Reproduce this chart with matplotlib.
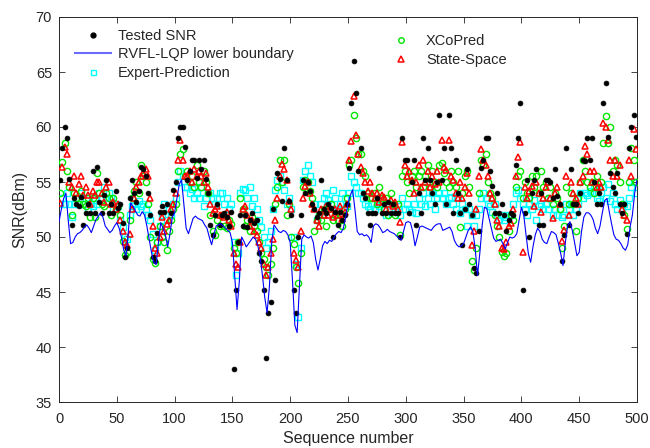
import numpy as np
import matplotlib
matplotlib.use("Agg")
import matplotlib.pyplot as plt
from matplotlib.lines import Line2D

plt.rcParams["font.family"] = ["Liberation Sans", "DejaVu Sans"]

# sequence positions of the measured / predicted samples
seq = np.arange(1, 500, 2)

tested_snr = [
    55.2, 58.1, 60.0, 59.0, 55.3,  51.1, 53.5, 53.0, 52.8, 53.6,
    51.1, 52.2, 53.0, 52.2, 56.0,  52.2, 56.4, 53.2, 52.2, 53.8,
    55.2, 52.2, 53.0, 52.2, 54.2,  52.6, 53.0, 51.3, 48.2, 49.0,
    53.5, 55.2, 54.0, 53.2, 54.2,  56.4, 56.2, 55.5, 54.0, 52.0,
    48.2, 47.8, 50.4, 52.3, 52.8,  52.3, 53.0, 46.1, 52.2, 54.3,
    55.0, 59.0, 60.0, 60.0, 58.2,  55.2, 56.0, 57.0, 57.0, 55.4,
    57.0, 56.2, 57.0, 55.3, 54.0,  51.1, 50.2, 52.0, 53.0, 51.1,
    52.0, 52.2, 51.8, 51.0, 52.3,  38.0, 45.2, 49.5, 52.0, 51.0,
    52.0, 50.9, 51.5, 52.2, 51.3,  51.5, 48.5, 47.8, 45.2, 39.0,
    43.1, 44.1, 52.5, 46.1, 55.8,  55.3, 53.3, 58.1, 55.2, 53.3,
    52.0, 45.2, 43.1, 50.0, 52.0,  55.2, 54.0, 55.0, 54.2, 53.0,
    52.5, 51.8, 52.2, 55.2, 52.5,  52.2, 53.0, 52.6, 50.0, 52.3,
    51.1, 52.3, 51.5, 52.0, 53.0,  56.3, 62.2, 66.0, 63.1, 56.0,
    58.1, 54.0, 53.5, 52.2, 51.1,  52.2, 52.2, 53.5, 56.3, 52.2,
    53.0, 52.2, 53.2, 52.2, 53.0,  52.2, 52.2, 50.0, 59.0, 57.0,
    57.0, 52.2, 55.0, 57.0, 51.1,  54.0, 52.2, 59.0, 55.2, 58.1,
    55.2, 54.0, 53.0, 55.0, 61.1,  55.2, 58.1, 53.0, 61.1, 58.1,
    52.2, 57.0, 54.0, 52.2, 49.3,  52.5, 56.2, 53.0, 52.0, 47.2,
    46.7, 50.5, 56.3, 57.0, 59.0,  59.0, 56.0, 54.6, 52.2, 54.0,
    52.2, 53.0, 52.0, 50.5, 51.5,  52.2, 52.0, 56.5, 59.0, 62.2,
    45.2, 52.2, 55.2, 50.0, 54.0,  55.2, 56.2, 51.1, 54.0, 51.1,
    55.2, 55.2, 55.0, 53.5, 56.2,  53.7, 53.0, 47.8, 50.2, 58.1,
    51.1, 56.2, 53.0, 53.0, 52.2,  54.0, 57.0, 56.9, 59.0, 57.0,
    59.0, 55.0, 53.0, 54.0, 53.0,  62.2, 64.0, 59.1, 55.8, 54.5,
    54.0, 55.8, 53.0, 52.2, 53.0,  50.3, 58.1, 60.0, 61.1, 59.1,
]

state_space = [
    53.1, 56.4, 58.2, 57.5, 55.0,  54.5, 55.5, 54.0, 54.8, 55.5,
    53.8, 54.5, 53.8, 53.0, 54.2,  53.8, 55.0, 55.0, 54.0, 53.2,
    54.5, 55.0, 53.0, 53.2, 52.5,  53.0, 51.5, 50.5, 49.5, 49.3,
    50.3, 52.5, 53.5, 54.5, 55.0,  55.5, 55.8, 56.2, 55.5, 53.5,
    51.0, 49.0, 48.5, 50.0, 51.8,  50.5, 51.2, 51.5, 52.5, 53.0,
    54.0, 57.0, 58.8, 57.0, 55.5,  55.5, 56.0, 55.0, 56.2, 55.5,
    56.0, 55.5, 55.0, 55.8, 54.5,  53.0, 52.2, 52.5, 52.8, 52.0,
    52.0, 51.8, 52.3, 51.5, 51.0,  48.5, 47.5, 47.3, 49.5, 52.5,
    52.8, 52.0, 51.0, 51.5, 50.5,  50.2, 49.5, 49.0, 47.5, 46.5,
    47.3, 48.5, 49.8, 51.5, 53.5,  55.5, 56.6, 56.2, 55.2, 53.3,
    52.5, 48.5, 47.9, 47.3, 50.5,  53.5, 54.6, 55.0, 54.0, 53.0,
    52.5, 51.5, 51.0, 52.5, 52.0,  52.8, 52.0, 52.5, 51.8, 52.5,
    52.0, 52.8, 51.6, 52.3, 53.0,  57.0, 58.7, 62.8, 59.3, 57.5,
    56.4, 55.8, 55.0, 54.2, 55.0,  54.0, 53.5, 54.0, 53.2, 53.8,
    53.6, 52.5, 53.0, 53.4, 52.8,  53.2, 52.5, 51.4, 58.6, 56.5,
    55.5, 56.0, 55.2, 54.0, 55.0,  56.5, 54.5, 57.0, 55.0, 56.0,
    54.5, 55.5, 54.8, 56.0, 55.0,  58.8, 56.4, 56.1, 58.8, 55.5,
    55.2, 54.0, 53.5, 55.0, 53.5,  54.5, 55.8, 54.0, 49.3, 50.5,
    52.5, 55.5, 58.0, 57.0, 56.5,  55.5, 54.0, 53.5, 53.0, 51.5,
    51.0, 49.0, 48.9, 49.5, 51.0,  51.3, 52.5, 55.5, 57.3, 58.6,
    48.6, 54.5, 53.5, 54.2, 54.6,  52.8, 55.0, 54.0, 52.3, 53.5,
    54.5, 55.0, 53.5, 51.7, 54.0,  54.5, 53.0, 49.6, 50.6, 55.5,
    52.0, 55.0, 54.0, 53.5, 53.0,  55.0, 55.5, 58.3, 57.5, 56.0,
    55.0, 56.0, 54.5, 55.0, 54.5,  60.4, 60.0, 58.8, 57.0, 55.5,
    57.0, 55.5, 56.5, 52.5, 52.0,  51.5, 57.0, 55.5, 59.8, 58.0,
]

xcopred = [
    54.0, 56.8, 58.5, 56.0, 54.5,  52.0, 54.0, 53.5, 53.0, 54.2,
    53.0, 52.8, 53.5, 51.8, 53.5,  51.8, 55.8, 54.0, 53.0, 52.8,
    54.0, 53.5, 52.0, 53.5, 52.5,  52.8, 52.0, 49.6, 48.4, 48.6,
    51.5, 53.5, 54.2, 55.0, 54.0,  56.5, 55.5, 55.0, 53.0, 50.0,
    48.0, 47.6, 49.5, 51.0, 50.0,  49.5, 48.8, 50.5, 51.5, 52.5,
    53.0, 56.0, 57.5, 58.0, 55.5,  56.0, 55.0, 55.5, 54.5, 56.5,
    55.0, 54.5, 56.0, 55.0, 54.0,  52.0, 50.5, 50.2, 51.5, 51.0,
    52.0, 51.0, 50.8, 51.5, 51.2,  49.0, 48.5, 49.5, 53.5, 52.5,
    51.0, 51.5, 50.5, 51.8, 51.0,  50.5, 49.5, 48.5, 48.0, 47.3,
    46.5, 47.5, 49.0, 53.0, 54.5,  57.0, 55.0, 57.0, 52.0, 53.0,
    50.0, 49.4, 47.3, 45.8, 48.5,  54.5, 55.2, 55.0, 54.2, 53.5,
    50.5, 51.5, 52.0, 51.5, 52.5,  51.0, 52.5, 53.0, 51.5, 52.0,
    51.5, 52.0, 51.0, 52.5, 53.5,  56.5, 57.0, 61.1, 59.0, 57.5,
    57.5, 56.0, 55.5, 54.0, 53.5,  53.5, 54.0, 53.0, 54.5, 53.5,
    52.5, 53.5, 52.0, 54.0, 53.0,  52.0, 53.0, 50.2, 55.5, 56.0,
    55.0, 54.0, 55.5, 56.0, 54.5,  55.5, 56.0, 54.5, 55.5, 56.5,
    54.5, 56.0, 55.0, 54.5, 56.5,  56.7, 55.8, 55.0, 54.5, 56.0,
    55.0, 54.5, 56.0, 50.9, 54.0,  55.5, 56.0, 54.5, 47.8, 47.0,
    49.0, 54.0, 57.0, 56.5, 57.5,  55.0, 54.0, 53.5, 52.0, 51.0,
    50.0, 48.6, 48.3, 48.5, 50.5,  52.0, 51.5, 54.5, 55.5, 56.0,
    53.5, 55.0, 54.0, 53.5, 55.5,  54.5, 55.5, 54.0, 56.0, 54.5,
    55.0, 53.5, 54.5, 53.0, 54.0,  53.5, 52.5, 49.0, 51.0, 54.5,
    53.0, 54.0, 53.0, 50.5, 53.5,  55.0, 57.0, 56.0, 55.0, 54.5,
    55.0, 54.0, 55.5, 54.5, 55.0,  58.5, 61.0, 58.5, 60.0, 56.0,
    57.0, 56.5, 55.0, 53.0, 52.0,  50.7, 55.0, 58.1, 57.0, 55.0,
]

expert_prediction = [
    53.0, 53.5, 53.0, 54.0, 53.0,  51.8, 53.0, 53.5, 53.0, 54.0,
    53.0, 53.5, 52.5, 53.0, 52.8,  53.5, 53.0, 54.0, 53.5, 54.5,
    53.5, 54.0, 53.5, 52.5, 53.0,  52.8, 51.5, 50.9, 50.0, 49.8,
    52.0, 52.8, 53.0, 52.5, 53.3,  52.8, 53.0, 52.5, 52.0, 51.5,
    50.3, 48.8, 49.5, 51.0, 52.0,  53.0, 51.5, 52.5, 52.0, 53.0,
    53.5, 55.0, 56.0, 55.5, 54.5,  54.5, 54.0, 54.4, 53.5, 54.0,
    53.5, 54.5, 52.8, 53.5, 54.0,  54.0, 53.5, 53.0, 53.5, 54.0,
    54.0, 53.0, 53.5, 52.5, 53.0,  49.5, 46.5, 48.5, 54.0, 54.4,
    54.3, 53.5, 54.5, 52.8, 53.5,  52.5, 51.5, 50.9, 50.0, 49.0,
    49.5, 50.5, 52.5, 54.3, 55.2,  55.5, 55.0, 54.3, 53.0, 53.5,
    52.5, 50.0, 47.5, 42.7, 49.0,  55.2, 56.0, 56.5, 55.5, 55.0,
    53.0, 51.5, 52.0, 53.0, 53.5,  54.0, 53.4, 53.0, 54.3, 53.5,
    52.5, 53.0, 54.0, 53.5, 52.8,  54.0, 55.5, 55.0, 54.5, 54.0,
    54.0, 53.5, 53.0, 52.8, 52.5,  53.0, 52.5, 53.0, 52.8, 53.0,
    52.5, 52.0, 53.0, 52.5, 53.0,  52.5, 52.8, 52.0, 53.5, 52.5,
    53.0, 52.5, 52.3, 53.0, 52.2,  53.5, 53.0, 54.0, 52.8, 53.5,
    53.0, 54.0, 52.5, 53.5, 54.0,  53.5, 54.0, 53.0, 53.5, 53.6,
    53.0, 52.5, 53.6, 52.2, 53.0,  52.5, 51.0, 52.5, 52.0, 51.0,
    52.0, 52.5, 53.5, 54.0, 53.5,  53.0, 52.8, 52.3, 53.0, 52.0,
    51.5, 52.0, 51.5, 51.8, 52.0,  52.0, 53.0, 54.0, 54.3, 53.5,
    53.0, 52.5, 52.0, 53.0, 52.5,  53.4, 51.5, 52.8, 53.0, 52.5,
    53.0, 52.5, 53.5, 52.0, 52.5,  52.0, 52.5, 51.8, 52.0, 53.0,
    52.5, 53.0, 52.0, 52.5, 53.0,  54.0, 53.5, 54.0, 53.8, 54.2,
    54.0, 54.5, 53.5, 53.3, 54.0,  54.5, 53.5, 54.8, 53.3, 54.0,
    53.0, 52.5, 53.4, 52.5, 53.0,  52.8, 53.5, 54.5, 55.0, 54.0,
]

# RVFL-LQP lower boundary, one value every 2 samples from 0 to 500
boundary_seq = np.arange(0, 501, 2)
lower_boundary = [
    51.4, 52.5, 53.5, 54.0, 51.5, 49.4, 49.5, 50.0, 50.3, 50.4,
    50.6, 50.9, 51.1, 50.8, 50.4, 51.0, 51.6, 51.9, 52.2, 51.8,
    51.0, 50.7, 50.4, 50.6, 51.0, 51.3, 50.8, 50.0, 48.8, 48.3,
    50.5, 53.1, 52.8, 52.4, 52.0, 51.9, 52.3, 52.0, 51.0, 49.8,
    48.6, 47.7, 47.5, 49.5, 51.3, 50.8, 50.2, 49.1, 50.3, 51.8,
    52.2, 53.5, 54.8, 55.2, 53.0, 50.8, 50.3, 51.0, 51.7, 51.9,
    51.7, 51.6, 51.5, 51.1, 50.8, 50.0, 49.3, 50.2, 51.0, 51.1,
    51.2, 51.0, 50.8, 50.6, 50.4, 49.5, 46.5, 43.4, 46.0, 50.0,
    49.6, 49.1, 49.4, 49.7, 50.0, 49.8, 49.2, 48.2, 46.5, 44.5,
    43.1, 45.5, 49.5, 51.1, 50.8, 50.5, 50.4, 50.6, 50.5, 50.2,
    49.5, 46.0, 42.0, 41.3, 45.5, 49.8, 50.2, 50.0, 49.9, 50.1,
    49.5, 48.0, 47.0, 48.0, 49.2, 49.6, 49.4, 49.7, 49.6, 50.0,
    50.3, 50.5, 50.4, 50.8, 51.8, 53.0, 53.8, 54.3, 52.5, 50.5,
    50.2, 50.3, 50.1, 50.2, 50.0, 49.5, 51.0, 51.2, 51.1, 50.8,
    50.4, 50.5, 50.7, 50.5, 50.4, 50.3, 50.1, 49.9, 49.7, 50.5,
    51.3, 51.4, 51.3, 50.5, 49.2, 50.0, 50.9, 51.0, 50.9, 50.8,
    50.7, 50.6, 50.9, 51.1, 51.2, 51.2, 50.6, 50.7, 50.8, 50.9,
    50.5, 49.7, 49.3, 49.1, 49.2, 49.4, 50.0, 50.6, 50.9, 50.5,
    49.0, 46.5, 48.5, 51.0, 52.7, 52.6, 51.7, 50.8, 49.9, 49.6,
    49.7, 49.8, 49.4, 48.9, 49.5, 50.0, 49.9, 50.0, 50.3, 51.5,
    52.7, 52.0, 50.2, 48.5, 47.7, 49.1, 50.2, 50.8, 50.5, 49.8,
    49.5, 49.4, 50.0, 50.5, 50.4, 50.2, 49.4, 48.5, 47.4, 49.5,
    51.0, 51.4, 50.6, 49.5, 48.3, 48.6, 50.5, 51.8, 52.2, 52.2,
    52.0, 51.6, 50.8, 50.3, 51.0, 52.2, 53.3, 53.5, 52.3, 51.2,
    50.2, 49.8, 49.7, 49.4, 49.0, 48.8, 49.3, 50.9, 52.0, 54.0,
    55.2,
]

x_ticks = list(range(0, 501, 50))
y_ticks = list(range(35, 71, 5))

TXT = "#262626"
CYAN = "#00ffff"
GREEN = "#00e600"
RED = "#ff0000"
BLUE = "#0000ff"

fig = plt.figure(figsize=(6.5, 4.48), dpi=100)
ax = fig.add_axes([59 / 650, 46 / 448, 578 / 650, 385 / 448])

ax.plot(seq, expert_prediction, linestyle="none", marker="s", ms=4.0,
        mfc="none", mec=CYAN, mew=1.0, zorder=2)
ax.plot(seq, xcopred, linestyle="none", marker="o", ms=4.5,
        mfc="none", mec=GREEN, mew=1.0, zorder=3)
ax.plot(seq, state_space, linestyle="none", marker="^", ms=5.0,
        mfc="none", mec=RED, mew=1.1, zorder=4)
ax.plot(seq, tested_snr, linestyle="none", marker="o", ms=3.5,
        mfc="black", mec="black", mew=0.5, zorder=5)
ax.plot(boundary_seq, lower_boundary, color=BLUE, lw=0.8, zorder=6)

ax.set_xlim(0, 500)
ax.set_ylim(35, 70)
ax.set_xticks(x_ticks)
ax.set_yticks(y_ticks)
ax.tick_params(direction="in", top=True, right=True, length=4, width=0.6,
               labelsize=10.5, colors=TXT)
ax.tick_params(axis="x", pad=7)
ax.tick_params(axis="y", pad=5)
for sp in ax.spines.values():
    sp.set_color(TXT)
    sp.set_linewidth(0.7)

ax.set_xlabel("Sequence number", fontsize=11.5, color=TXT, labelpad=4)
ax.set_ylabel("SNR(dBm)", fontsize=11.5, color=TXT, labelpad=6)

h1 = [
    Line2D([], [], linestyle="none", marker="o", ms=3.5, mfc="black", mec="black"),
    Line2D([], [], color="#6b6bff", lw=1.5),
    Line2D([], [], linestyle="none", marker="s", ms=3.6, mfc="none", mec=CYAN, mew=1.0),
]
leg1 = ax.legend(h1, ["Tested SNR", "RVFL-LQP lower boundary", "Expert-Prediction"],
                 loc="upper left", bbox_to_anchor=(0.0277, 0.969), frameon=False,
                 fontsize=10.5, handlelength=2.5, handletextpad=0.45,
                 labelspacing=0.31, borderpad=0, borderaxespad=0)
for t in leg1.get_texts():
    t.set_color(TXT)
ax.add_artist(leg1)

h2 = [
    Line2D([], [], linestyle="none", marker="o", ms=4.0, mfc="none", mec=GREEN, mew=1.0),
    Line2D([], [], linestyle="none", marker="^", ms=4.6, mfc="none", mec=RED, mew=1.1),
]
leg2 = ax.legend(h2, ["XCoPred", "State-Space"], loc="upper left",
                 bbox_to_anchor=(0.5606, 0.955), frameon=False, fontsize=10.5,
                 handlelength=2.5, handletextpad=0.45, labelspacing=0.31,
                 borderpad=0, borderaxespad=0)
for t in leg2.get_texts():
    t.set_color(TXT)

fig.savefig("out.png", dpi=100)
